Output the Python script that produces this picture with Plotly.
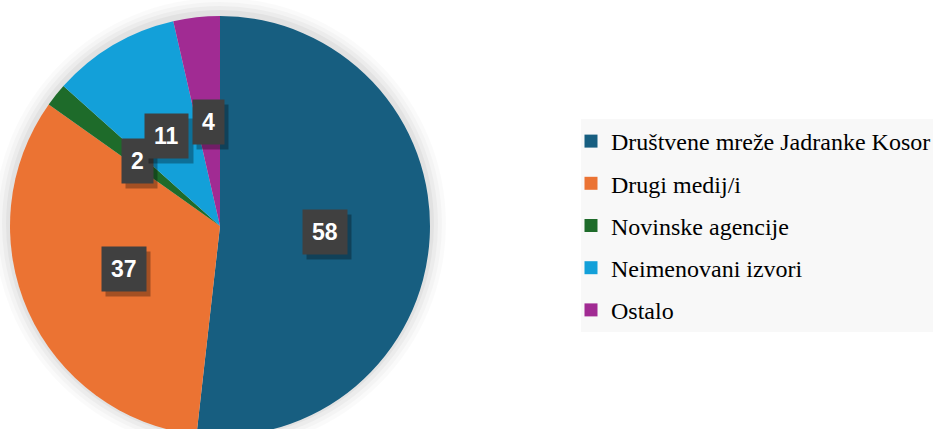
import math
import plotly.graph_objects as go

labels = ["Društvene mreže Jadranke Kosor", "Drugi medij/i", "Novinske agencije",
          "Neimenovani izvori", "Ostalo"]
values = [58, 37, 2, 11, 4]
colors = ["#175E80", "#EB7333", "#1E6B2A", "#13A0D9", "#A12B93"]

W, H = 933, 440
# pie geometry in window pixels (centre and radius)
cx, cy, R = 220, 226, 210


def px_x(x):
    return x / W


def px_y(y):
    return (H - y) / H


fig = go.Figure()
fig.add_trace(go.Pie(
    labels=labels,
    values=values,
    marker=dict(colors=colors, line=dict(width=0)),
    sort=False,
    direction="clockwise",
    rotation=0,
    textinfo="none",
    hoverinfo="label+value",
    showlegend=False,
    domain=dict(x=[px_x(cx - R), px_x(cx + R)],
                y=[px_y(cy + R), px_y(cy - R)]),
))

# legend entries as dummy traces so the gap between items can be set
for lab, col in zip(labels, colors):
    fig.add_trace(go.Scatter(
        x=[None], y=[None], mode="markers", name=lab, legendgroup=lab,
        marker=dict(symbol="square", size=13, color=col),
    ))

# soft shadow round the pie
for g, a in [(16, 0.018), (12, 0.022), (8, 0.03), (4, 0.04)]:
    fig.add_shape(type="circle", xref="paper", yref="paper", layer="below",
                  x0=px_x(cx - R - g), x1=px_x(cx + R + g),
                  y0=px_y(cy + R + g - 2), y1=px_y(cy - R - g - 2),
                  fillcolor="rgba(0,0,0,%s)" % a, line=dict(width=0))

# value labels in dark boxes, half way out along each slice
total = sum(values)
cum = 0
for v in values:
    ang = 2 * math.pi * (cum + v / 2) / total
    cum += v
    lx = cx + 0.5 * R * math.sin(ang)
    ly = cy - 0.5 * R * math.cos(ang)
    common = dict(x=px_x(lx), y=px_y(ly), xref="paper", yref="paper",
                  xanchor="center", yanchor="middle", showarrow=False,
                  borderpad=9)
    # drop shadow: blank box of the same size, moved down and right
    fig.add_annotation(
        text="&nbsp;" * (2 * len(str(v))), bgcolor="rgba(0,0,0,0.3)",
        font=dict(family="Liberation Sans", size=23, color="white"),
        xshift=4, yshift=-5, **common)
    fig.add_annotation(
        text="<b>%d</b>" % v, bgcolor="#404040",
        font=dict(family="Liberation Sans", size=23, color="white"),
        **common)

fig.update_layout(
    width=W, height=H,
    margin=dict(l=0, r=0, t=0, b=0, autoexpand=False),
    font=dict(family="Liberation Serif", color="black"),
    paper_bgcolor="white", plot_bgcolor="white",
    xaxis=dict(visible=False), yaxis=dict(visible=False),
    legend=dict(
        x=px_x(581), y=px_y(119), xanchor="left", yanchor="top",
        bgcolor="#F8F8F8", tracegroupgap=8, indentation=-10,
        font=dict(family="Liberation Serif", size=24, color="black"),
        itemclick=False,
    ),
)

# no body margin and no scrollbars, so the figure fills the window from its corner
fig.write_html("out.html", config={"displayModeBar": False}, post_script=(
    "document.body.style.margin='0';"
    "document.body.style.overflow='hidden';"))
